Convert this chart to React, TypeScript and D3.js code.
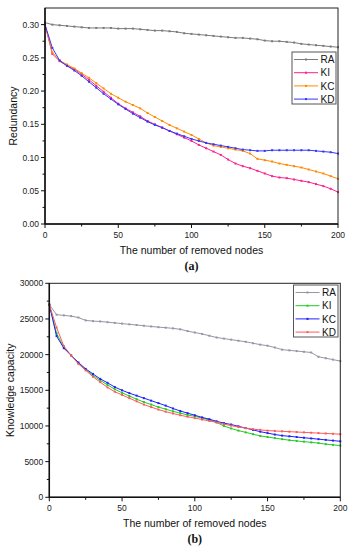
import React from 'react';
import * as d3 from 'd3';

// removed-node counts (every 5 nodes)
const nodes = d3.range(0, 201, 5);

// (a) redundancy
const raRed = [0.303, 0.300, 0.299, 0.298, 0.297, 0.296, 0.295, 0.295, 0.295, 0.295, 0.294, 0.294, 0.294, 0.293, 0.292, 0.291, 0.291, 0.290, 0.289, 0.287, 0.286, 0.285, 0.284, 0.283, 0.282, 0.281, 0.280, 0.280, 0.279, 0.278, 0.276, 0.275, 0.275, 0.274, 0.273, 0.271, 0.270, 0.269, 0.268, 0.267, 0.266];
const kiRed = [0.300, 0.256, 0.245, 0.238, 0.233, 0.225, 0.217, 0.208, 0.199, 0.190, 0.181, 0.174, 0.168, 0.162, 0.155, 0.150, 0.145, 0.140, 0.135, 0.130, 0.125, 0.119, 0.114, 0.109, 0.104, 0.097, 0.091, 0.087, 0.084, 0.080, 0.076, 0.072, 0.070, 0.069, 0.067, 0.065, 0.063, 0.060, 0.057, 0.053, 0.048];
const kcRed = [0.300, 0.258, 0.246, 0.240, 0.234, 0.227, 0.220, 0.212, 0.204, 0.196, 0.190, 0.184, 0.179, 0.174, 0.167, 0.161, 0.155, 0.149, 0.144, 0.139, 0.134, 0.128, 0.122, 0.118, 0.116, 0.114, 0.112, 0.110, 0.106, 0.098, 0.096, 0.094, 0.091, 0.089, 0.087, 0.085, 0.082, 0.079, 0.076, 0.072, 0.068];
const kdRed = [0.300, 0.265, 0.246, 0.238, 0.231, 0.223, 0.214, 0.205, 0.196, 0.188, 0.180, 0.173, 0.166, 0.160, 0.154, 0.149, 0.145, 0.140, 0.136, 0.132, 0.128, 0.125, 0.122, 0.120, 0.118, 0.116, 0.114, 0.112, 0.111, 0.110, 0.110, 0.111, 0.111, 0.111, 0.111, 0.111, 0.111, 0.110, 0.109, 0.108, 0.106];

// (b) knowledge capacity
const raCap = [27000, 25600, 25500, 25400, 25200, 24800, 24700, 24650, 24550, 24450, 24350, 24250, 24150, 24050, 23950, 23850, 23780, 23680, 23550, 23300, 23100, 22900, 22650, 22400, 22250, 22100, 21950, 21800, 21600, 21400, 21250, 21000, 20700, 20600, 20500, 20400, 20300, 19700, 19500, 19300, 19100];
const kiCap = [27000, 23000, 21000, 19900, 18800, 17900, 17100, 16400, 15750, 15150, 14650, 14200, 13750, 13350, 13000, 12650, 12350, 12050, 11800, 11550, 11350, 11100, 10850, 10500, 10000, 9650, 9350, 9100, 8850, 8600, 8450, 8300, 8150, 8000, 7900, 7800, 7700, 7600, 7450, 7350, 7250];
const kcCap = [27000, 22600, 20900, 19900, 18900, 18000, 17300, 16600, 16050, 15450, 15000, 14600, 14250, 13900, 13550, 13200, 12850, 12450, 12100, 11800, 11500, 11200, 10950, 10650, 10400, 10200, 9950, 9700, 9450, 9200, 9000, 8800, 8650, 8550, 8450, 8350, 8250, 8150, 8050, 7950, 7850];
const kdCap = [27000, 23800, 21200, 19900, 18700, 17800, 16900, 16150, 15400, 14800, 14350, 13900, 13450, 13000, 12650, 12300, 12000, 11750, 11500, 11300, 11100, 10900, 10700, 10500, 10250, 10050, 9850, 9700, 9550, 9450, 9350, 9300, 9250, 9200, 9150, 9100, 9050, 9000, 8950, 8900, 8850];

const seriesNames = ['RA', 'KI', 'KC', 'KD'];
const xTicks = [0, 50, 100, 150, 200];
const xMinor = [25, 75, 125, 175];
const redTicks = [0, 0.05, 0.1, 0.15, 0.2, 0.25, 0.3];
const capTicks = [0, 5000, 10000, 15000, 20000, 25000, 30000];

const font = 'Liberation Sans, Arial, sans-serif';

const Panel = ({ box, yMax, yTicks, fmt, series, colors, yLabel, yLabelX, tag, legendBox }) => {
    const x = d3.scaleLinear().domain([0, 200]).range([box.left, box.right]);
    const y = d3.scaleLinear().domain([0, yMax]).range([box.bottom, box.top]);
    const step = yTicks[1] - yTicks[0];
    const yMinor = d3.range(step / 2, yMax, step);
    const line = d3.line().x((d) => x(d[0])).y((d) => y(d[1]));
    const midY = (box.top + box.bottom) / 2;
    const midX = (box.left + box.right) / 2;
    return (
        <g fontFamily={font}>
            {series.map((vals, i) => {
                const pts = nodes.map((n, j) => [n, vals[j]]);
                return (
                    <g key={i}>
                        <path d={line(pts)} fill="none" stroke={colors[i]} strokeWidth={1} />
                        {pts.map((p, j) => (
                            <rect key={j} x={x(p[0]) - 1} y={y(p[1]) - 1} width={2} height={2} fill={colors[i]} />
                        ))}
                    </g>
                );
            })}
            <rect x={box.left} y={box.top} width={box.right - box.left} height={box.bottom - box.top}
                fill="none" stroke="#222" strokeWidth={1} />
            <line x1={box.left} x2={box.left} y1={box.top} y2={box.bottom} stroke="#111" strokeWidth={1.5} />
            <line x1={box.left} x2={box.right} y1={box.bottom} y2={box.bottom} stroke="#111" strokeWidth={1.5} />
            {yTicks.map((t) => (
                <g key={t}>
                    <line x1={box.left - 4} x2={box.left} y1={y(t)} y2={y(t)} stroke="#111" />
                    <text x={box.left - 6} y={y(t) + 3} fontSize={8.5} textAnchor="end" fill="#222">{fmt(t)}</text>
                </g>
            ))}
            {yMinor.map((t) => (
                <line key={t} x1={box.left - 2.5} x2={box.left} y1={y(t)} y2={y(t)} stroke="#111" />
            ))}
            {xTicks.map((t) => (
                <g key={t}>
                    <line x1={x(t)} x2={x(t)} y1={box.bottom} y2={box.bottom + 4} stroke="#111" />
                    <text x={x(t)} y={box.bottom + 13.5} fontSize={8.5} textAnchor="middle" fill="#222">{t}</text>
                </g>
            ))}
            {xMinor.map((t) => (
                <line key={t} x1={x(t)} x2={x(t)} y1={box.bottom} y2={box.bottom + 2.5} stroke="#111" />
            ))}
            <text transform={`translate(${yLabelX},${midY}) rotate(-90)`} fontSize={10.5}
                textAnchor="middle" fill="#111">{yLabel}</text>
            <text x={midX} y={box.bottom + 30} fontSize={10.5} textAnchor="middle" fill="#111">
                The number of removed nodes</text>
            <text x={midX} y={box.bottom + 46} fontSize={12} fontWeight="bold" textAnchor="middle"
                fontFamily="Liberation Serif, Times New Roman, serif" fill="#111">{tag}</text>
            <rect x={legendBox.x} y={legendBox.y} width={legendBox.w} height={legendBox.h}
                fill="white" stroke="#555" strokeWidth={1} />
            {seriesNames.map((nm, i) => {
                const ly = legendBox.y + 7.5 + i * 13.2;
                return (
                    <g key={nm}>
                        <line x1={legendBox.x + 2} x2={legendBox.x + 26} y1={ly} y2={ly} stroke={colors[i]} strokeWidth={1} />
                        <rect x={legendBox.x + 13} y={ly - 1} width={2} height={2} fill={colors[i]} />
                        <text x={legendBox.x + 28.5} y={ly + 3.6} fontSize={10} fill="#111">{nm}</text>
                    </g>
                );
            })}
        </g>
    );
};

export default function App() {
    return (
        <svg width={353} height={550} style={{ position: 'absolute', left: 0, top: 0, background: 'white' }}>
            <Panel
                box={{ left: 45, right: 338, top: 8, bottom: 224 }}
                yMax={0.325}
                yTicks={redTicks}
                fmt={d3.format('.2f')}
                series={[raRed, kiRed, kcRed, kdRed]}
                colors={['#7a7a7a', '#ff1f8f', '#ff8a00', '#3535ff']}
                yLabel="Redundancy"
                yLabelX={16.5}
                tag="(a)"
                legendBox={{ x: 292, y: 52, w: 44, h: 52 }}
            />
            <Panel
                box={{ left: 49.3, right: 340.3, top: 283.3, bottom: 497.3 }}
                yMax={30000}
                yTicks={capTicks}
                fmt={d3.format('d')}
                series={[raCap, kiCap, kcCap, kdCap]}
                colors={['#9696a6', '#22cc22', '#1f1fff', '#ff5a5a']}
                yLabel="Knowledge capacity"
                yLabelX={14}
                tag="(b)"
                legendBox={{ x: 293.5, y: 285, w: 44.5, h: 52 }}
            />
        </svg>
    );
}
